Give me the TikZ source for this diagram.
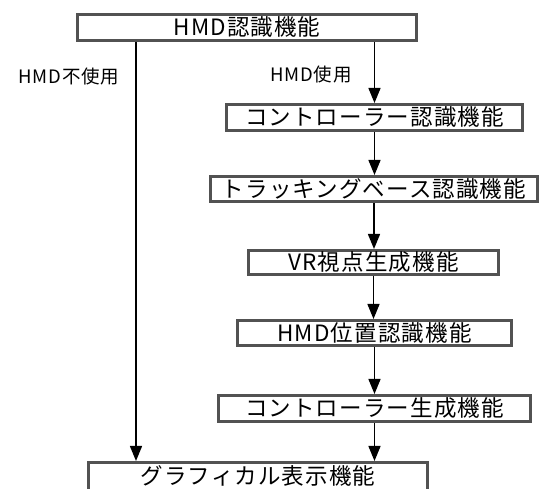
\documentclass[tikz,border=0pt]{standalone}
\usepackage{fontspec}
\setmainfont{Noto Sans CJK JP}
\newfontfamily\boxfont[LetterSpace=5]{Noto Sans CJK JP}
\newfontfamily\lblfont[LetterSpace=4]{Noto Sans CJK JP}
\usetikzlibrary{arrows.meta}
\tikzset{
  fbox/.style={draw=black!68, line width=3pt, fill=white, inner sep=0pt,
    text height=19pt, text depth=2.5pt,
    font=\boxfont\fontsize{22.5}{24}\selectfont, text=black},
  arr/.style={line width=1.4pt, -{Triangle[length=15pt,width=12pt]}},
  lbl/.style={font=\lblfont\fontsize{18.5}{20}\selectfont, inner sep=0pt}
}
\begin{document}
\begin{tikzpicture}[x=1pt,y=-1pt]
\useasboundingbox (0,0) rectangle (542,489);
\clip (0,0) rectangle (542,489);
\fill[white] (0,0) rectangle (542,489);
\node[fbox, minimum width=339pt, minimum height=26pt] (top) at (247,27.5) {HMD認識機能};
\node[fbox, minimum width=296pt, minimum height=26pt] (ctrl) at (374.5,117.5) {コントローラー認識機能};
\node[fbox, minimum width=327pt, minimum height=25pt] (track) at (374,189) {トラッキングベース認識機能};
\node[fbox, minimum width=250pt, minimum height=24pt] (vr) at (373.5,262.5) {VR視点生成機能};
\node[fbox, minimum width=274pt, minimum height=25pt] (hmdpos) at (374.5,333) {HMD位置認識機能};
\node[fbox, minimum width=312pt, minimum height=26pt] (ctrlgen) at (374.5,408.5) {コントローラー生成機能};
\node[fbox, minimum width=339pt, minimum height=28pt] (graph) at (258,476.5) {グラフィカル表示機能};
\coordinate (lx) at (136,0);
\node[lbl] (nouse) at (69,77) {HMD不使用};
\node[lbl] (use) at (311,75) {HMD使用};
\draw[arr] (ctrl.north |- top.south) -- (ctrl.north);
\draw[arr] (ctrl.south) -- (ctrl.south |- track.north);
\draw[arr] (track.south) -- (track.south |- vr.north);
\draw[arr] (vr.south) -- (vr.south |- hmdpos.north);
\draw[arr] (hmdpos.south) -- (hmdpos.south |- ctrlgen.north);
\draw[arr] (ctrlgen.south) -- (ctrlgen.south |- graph.north);
\draw[arr] (lx |- top.south) -- (lx |- graph.north);
\end{tikzpicture}
\end{document}
